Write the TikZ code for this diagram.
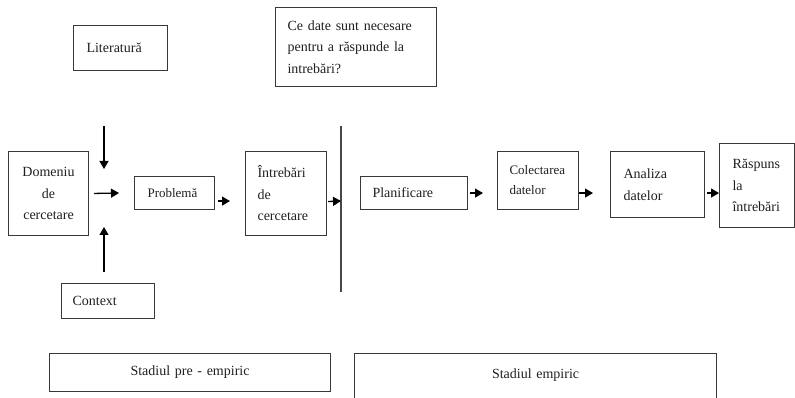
\documentclass[tikz,border=0pt]{standalone}
\usepackage{fontspec}
\setmainfont{Liberation Serif}
\usetikzlibrary{arrows.meta}
\begin{document}
\begin{tikzpicture}[x=1pt,y=-1pt,
  box/.style={draw=black!78, line width=1.1pt, anchor=north west, inner ysep=0pt,
    font=\fontsize{14}{21.5}\selectfont, text=black!88, align=left},
  small/.style={font=\fontsize{13}{20}\selectfont},
  arr/.style={draw=black, line width=1.3pt, -{Triangle[length=8pt,width=9pt]}},
  vline/.style={draw=black!72, line width=1.2pt},
]
\clip (0,0) rectangle (795,398);
% boxes
\node[box, minimum width=94pt, minimum height=45pt, inner xsep=13pt, text width=68pt] (lit) at (73,25) {Literatură};
\node[box, minimum width=161pt, minimum height=79pt, inner xsep=12pt, text width=137pt] (ce) at (275,7) {Ce date sunt necesare\\pentru a răspunde la\\intrebări?};
\node[box, minimum width=80pt, minimum height=84pt, inner xsep=4pt, text width=72pt, align=center] (dom) at (8,151) {Domeniu\\de\\cercetare};
\node[box, small, minimum width=80pt, minimum height=33pt, inner xsep=13pt, text width=54pt] (prob) at (134,176) {Problemă};
\node[box, minimum width=81pt, minimum height=84pt, inner xsep=12pt, text width=57pt] (intr) at (245,151) {Întrebări\\de\\cercetare};
\node[box, minimum width=107pt, minimum height=33pt, inner xsep=12pt, text width=83pt] (plan) at (360,176) {Planificare};
\node[box, small, minimum width=81pt, minimum height=58pt, inner xsep=12pt, text width=57pt] (col) at (497,151) {Colectarea\\datelor};
\node[box, minimum width=94pt, minimum height=66pt, inner xsep=13pt, text width=68pt] (ana) at (610,151) {Analiza\\datelor};
\node[box, minimum width=75pt, minimum height=84pt, inner xsep=13pt, text width=49pt] (rasp) at (719,143) {Răspuns\\la\\întrebări};
\node[box, minimum width=93pt, minimum height=35pt, inner xsep=11pt, text width=71pt] (ctx) at (61,283) {Context};
\node[box, minimum width=281pt, minimum height=38pt, inner xsep=4pt, text width=273pt, align=center] (pre) at (49,353) {Stadiul pre - empiric};
\node[box, minimum width=362pt, inner xsep=4pt, text width=354pt, align=center, inner ysep=12pt, text height=12.5pt, text depth=40pt] (emp) at (354,353) {Stadiul empiric};
% free-end coordinates
\coordinate (dtop) at (104,126);
\coordinate (dend) at (104,169);
\coordinate (ubot) at (104,272);
\coordinate (uend) at (104,227);
\coordinate (jr) at (119,193);
\coordinate (vtop) at (341,126);
\coordinate (vbot) at (341,292);
\coordinate (vmid) at (341,201);
% divider
\draw[vline] (vtop) -- (vbot);
% arrows
\draw[arr] (dtop) -- (dend);
\draw[arr] (ubot) -- (uend);
\draw[arr, shorten <=5pt] (dom.east) -- (jr);
\draw[arr, shorten <=3pt, shorten >=15pt] ([yshift=-8pt]prob.east) -- ([yshift=-8pt]prob.east -| intr.west);
\draw[arr, shorten <=1pt] ([yshift=-8pt]intr.east) -- (vmid);
\draw[arr, shorten <=2pt, shorten >=14pt] (plan.east) -- (plan.east -| col.west);
\draw[arr, shorten >=17pt] (plan.east -| col.east) -- (plan.east -| ana.west);
\draw[arr, shorten <=2pt] (plan.east -| ana.east) -- (plan.east -| rasp.west);
\end{tikzpicture}
\end{document}
